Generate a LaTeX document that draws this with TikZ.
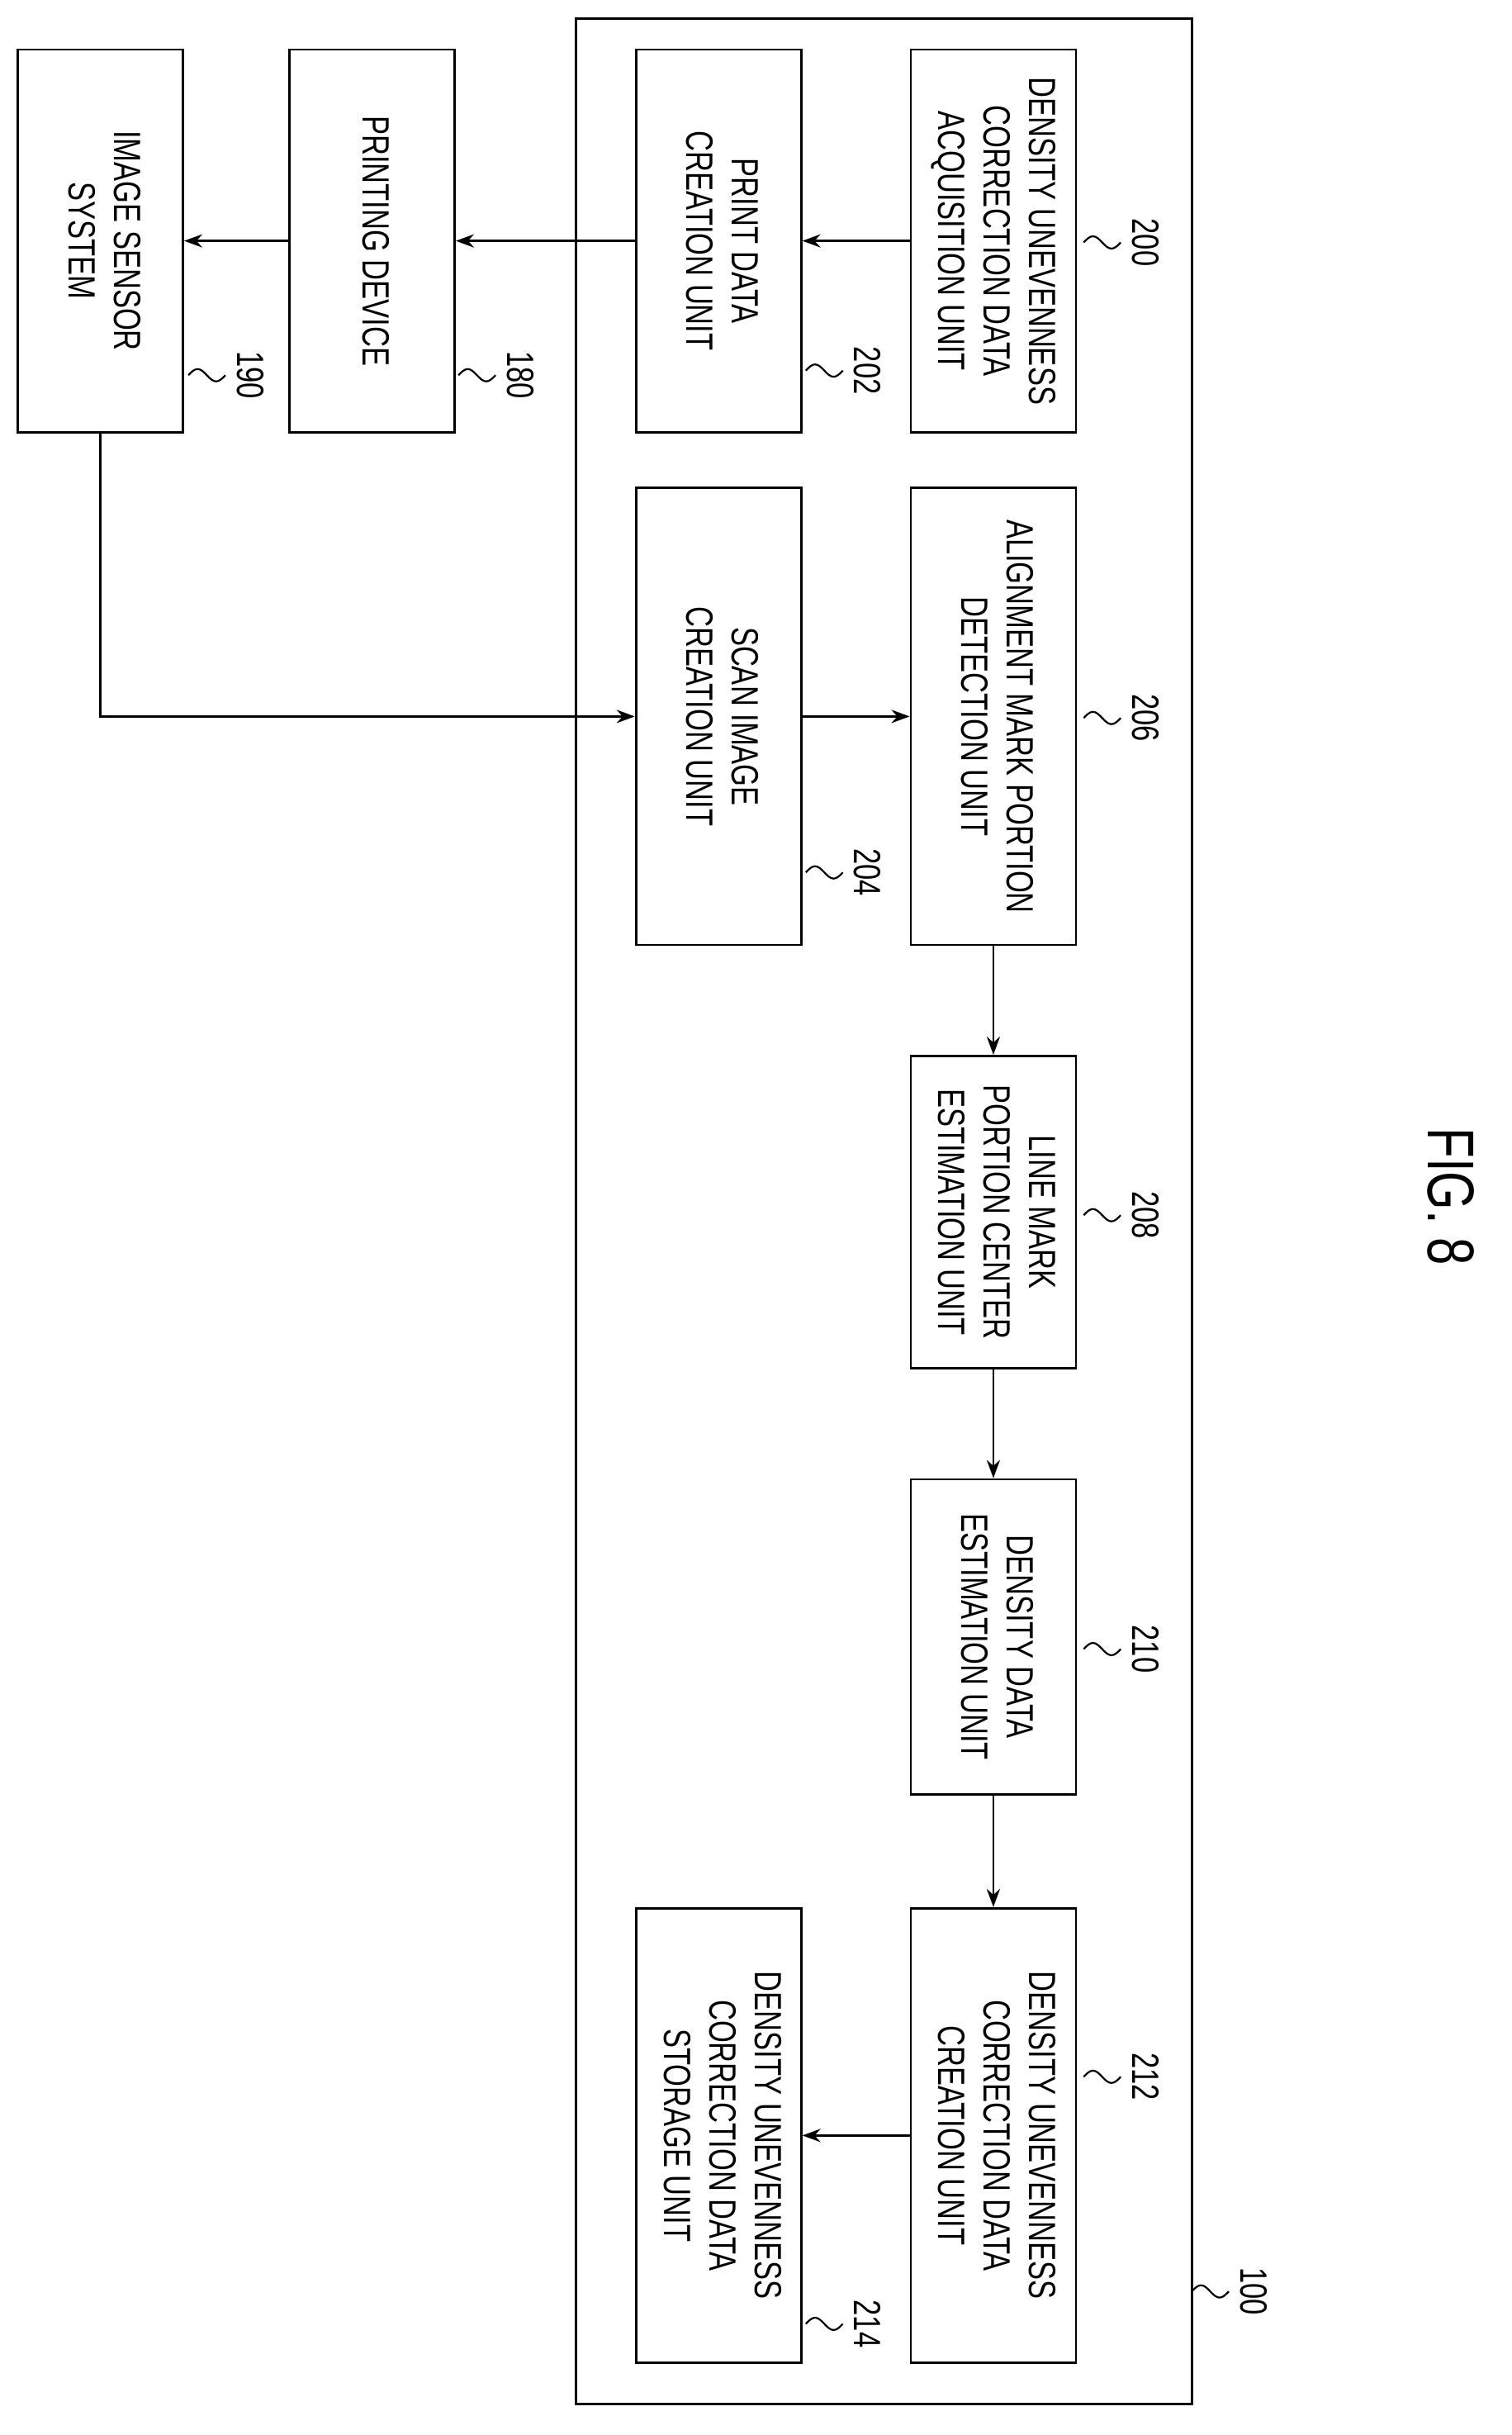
\documentclass[tikz,border=0pt]{standalone}
\usepackage{fontspec}
\setmainfont[FakeStretch=0.75]{Liberation Sans}
\usetikzlibrary{arrows.meta}
\newcommand{\rtxt}[1]{\rotatebox{-90}{\begin{tabular}{@{}c@{}}#1\end{tabular}}}
\newcommand{\reflab}[4]{% name, x, y, text
  \draw[thin line] (#2-40,#3) sin ++(6,-4) cos ++(6,4) sin ++(6,4) cos ++(6,-4);
  \node[lab] (#1) at (#2,#3) {\rotatebox{-90}{#4}};}
\begin{document}
\begin{tikzpicture}[x=1.869pt,y=-1.869pt,
  thin line/.style={line width=2.2pt},
  box/.style={draw,line width=2.8pt,inner sep=0pt,minimum width=200pt,font=\fontsize{46}{55}\selectfont},
  lab/.style={inner sep=0pt,font=\fontsize{46}{55}\selectfont},
  arr/.style={line width=2.8pt,-{Stealth[length=22pt,width=16pt]}}]
\useasboundingbox (0,0) rectangle (979,1577);
\draw[line width=2.8pt] (373,12) rectangle (772,1557);
\node[box,minimum height=463pt] (n190) at (65,156) {\rtxt{IMAGE SENSOR\\SYSTEM}};
\node[box,minimum height=463pt] (n180) at (241,156) {\rtxt{PRINTING DEVICE}};
\node[box,minimum height=463pt] (n202) at (465.5,156) {\rtxt{PRINT DATA\\CREATION UNIT}};
\node[box,minimum height=463pt] (n200) at (643.5,156) {\rtxt{DENSITY UNEVENNESS\\CORRECTION DATA\\ACQUISITION UNIT}};
\node[box,minimum height=553pt] (n204) at (465.5,464) {\rtxt{SCAN IMAGE\\CREATION UNIT}};
\node[box,minimum height=553pt] (n206) at (643.5,464) {\rtxt{ALIGNMENT MARK PORTION\\DETECTION UNIT}};
\node[box,minimum height=378pt] (n208) at (643.5,785) {\rtxt{LINE MARK\\PORTION CENTER\\ESTIMATION UNIT}};
\node[box,minimum height=381pt] (n210) at (643.5,1060) {\rtxt{DENSITY DATA\\ESTIMATION UNIT}};
\node[box,minimum height=550pt] (n212) at (643.5,1383) {\rtxt{DENSITY UNEVENNESS\\CORRECTION DATA\\CREATION UNIT}};
\node[box,minimum height=550pt] (n214) at (465.5,1383) {\rtxt{DENSITY UNEVENNESS\\CORRECTION DATA\\STORAGE UNIT}};
\draw[arr] (n200) -- (n202);
\draw[arr] (n202) -- (n180);
\draw[arr] (n180) -- (n190);
\draw[arr] (n190.south) |- (n204.west);
\draw[arr] (n204) -- (n206);
\draw[arr] (n206.south) -- (n208.north);
\draw[arr] (n208) -- (n210);
\draw[arr] (n210) -- (n212);
\draw[arr] (n212) -- (n214);
\reflab{l200}{742}{157}{200}
\reflab{l202}{562}{240}{202}
\reflab{l190}{162}{243}{190}
\reflab{l180}{337}{243}{180}
\reflab{l206}{742}{465}{206}
\reflab{l204}{562}{565}{204}
\reflab{l208}{742}{787}{208}
\reflab{l210}{742}{1068}{210}
\reflab{l212}{742}{1345}{212}
\reflab{l214}{562}{1505}{214}
\reflab{l100}{812}{1484}{100}
\node[inner sep=0pt,font=\fontsize{80}{90}\selectfont] (fig) at (940,775) {\rotatebox{-90}{FIG. 8}};
\end{tikzpicture}
\end{document}
